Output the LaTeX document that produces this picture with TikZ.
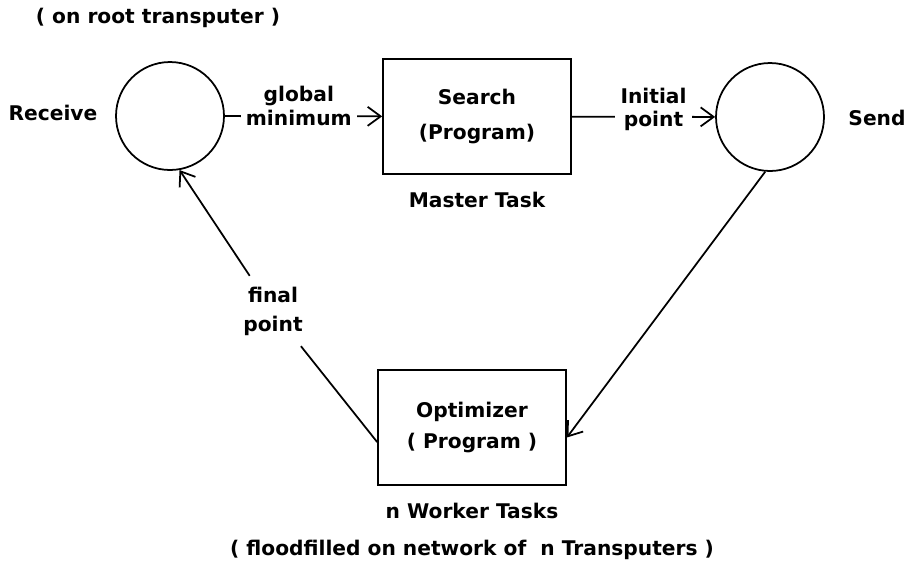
\documentclass[tikz,border=0pt]{standalone}
\usepackage{fontspec}
\setmainfont{DejaVu Sans}
\usetikzlibrary{positioning}
\usetikzlibrary{arrows.meta}
\tikzset{%
  msgarrow/.style = {-{Straight Barb[length=2.6mm,width=3.8mm]},line width=1pt},
  c/.style = {circle,draw,line width=1pt,minimum size=2.16cm,
        inner sep=0pt},
  r/.style = {rectangle,draw,line width=1pt,minimum width=3.76cm,
        minimum height=2.3cm,align=center},
  lbl/.style = {align=center,fill=white,inner sep=3pt}
}

\begin{document}
\begin{tikzpicture}[x=0.02cm,y=-0.02cm,node distance=0.3cm,
    font=\fontsize{11.5pt}{13.5pt}\selectfont\bfseries]
   \useasboundingbox (0,0) rectangle (911,569);
   \node[c] (receive) at (170,116) {};
   \node[c] (send) at (770,117) {};
   \node[r] (search) at (477,116.5) {Search\\[6pt](Program)};
   \node[r] (optimizer) at (472,427.5) {Optimizer\\[4pt]( Program )};
   \node (receive-txt) at (53,113) {Receive};
   \node (send-txt) at (877,118) {Send};
   \node (root) at (158,18) {( on root transputer )};
   \node (master) [below=0.22cm of search] {Master Task};
   \node (worker) [below=0.22cm of optimizer] {n Worker Tasks};
   \node (flood) [below=0.18cm of worker] {( floodfilled on network of\ \ n Transputers )};
   \node[lbl,inner sep=6pt] (final) at (273,311) {final\\[3pt]point};
   \draw[msgarrow] (receive) -- node[lbl,pos=0.47,yshift=0.2cm] {global\\minimum} (search);
   \draw[msgarrow] (search) -- node[lbl,pos=0.57,yshift=0.15cm] {Initial\\point} (send);
   \draw[msgarrow] (send.-95) -- ([yshift=-0.2cm]optimizer.east);
   \draw[line width=1pt] ([yshift=-0.29cm]optimizer.west) -- (final);
   \draw[msgarrow] (final) -- (receive.-80);
\end{tikzpicture}
\end{document}
